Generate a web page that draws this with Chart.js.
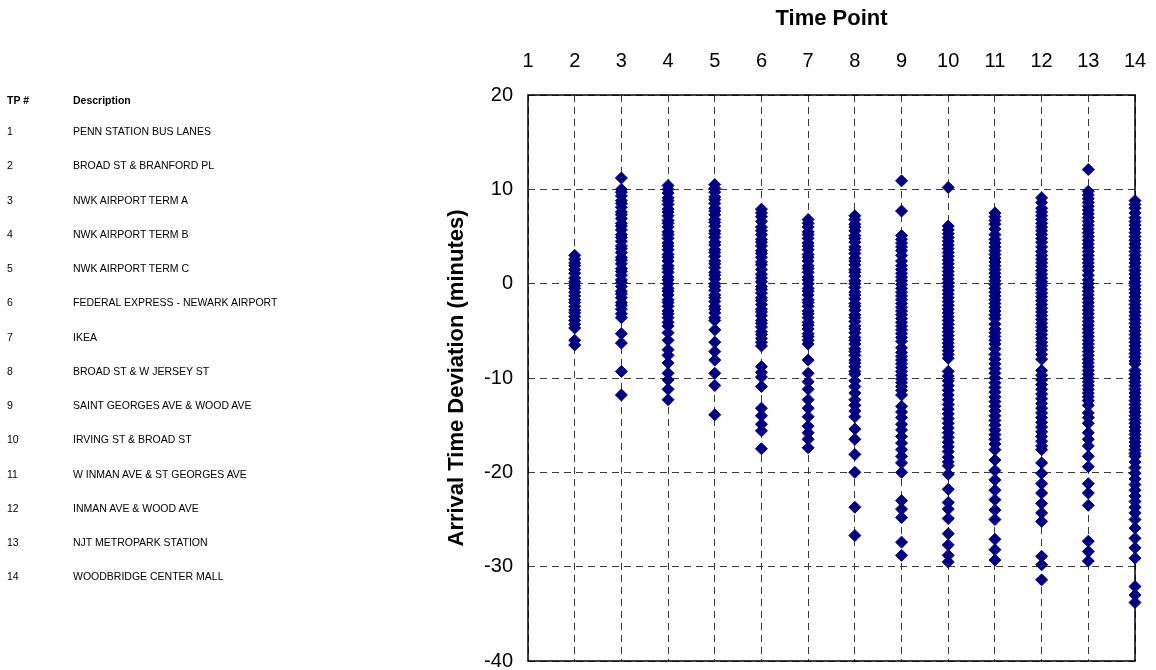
<!DOCTYPE html>
<html>
<head>
<meta charset="utf-8">
<script src="https://cdn.jsdelivr.net/npm/chart.js@4/dist/chart.umd.min.js"></script>
<style>
  body { margin: 0; background: #fff; }
  #wrap { position: relative; width: 1156px; height: 670px; }
  #chart { position: absolute; left: 0; top: 0; }
  .cell { position: absolute; font-family: Arial, "Liberation Sans", sans-serif; font-size: 10.5px; color: #000; line-height: 12px; white-space: nowrap; }
  .head { font-weight: bold; }
</style>
</head>
<body>
<div id="wrap">
  <canvas id="chart" width="1156" height="670"></canvas>
  <div id="table"></div>
</div>
<script>
// time points and stop names
const timePoints = [1, 2, 3, 4, 5, 6, 7, 8, 9, 10, 11, 12, 13, 14];
const descriptions = [
    'PENN STATION BUS LANES', 'BROAD ST & BRANFORD PL', 'NWK AIRPORT TERM A', 'NWK AIRPORT TERM B',
    'NWK AIRPORT TERM C', 'FEDERAL EXPRESS - NEWARK AIRPORT', 'IKEA', 'BROAD ST & W JERSEY ST',
    'SAINT GEORGES AVE & WOOD AVE', 'IRVING ST & BROAD ST', 'W INMAN AVE & ST GEORGES AVE',
    'INMAN AVE & WOOD AVE', 'NJT METROPARK STATION', 'WOODBRIDGE CENTER MALL'
];
const yTicks = [20, 10, 0, -10, -20, -30, -40];

// arrival time deviations (minutes) read per time point
const tp1 = [];
const tp2 = [3.0, 2.6, 2.2, 1.9, 1.5, 1.1, 0.6, 0.2, -0.2, -0.5, -0.9, -1.3, -1.7, -2.0, -2.4, -2.8, -3.1, -3.5, -3.9, -4.3, -4.7, -6.0, -6.5];
const tp3 = [11.2, 10.0, 9.7, 9.3, 8.8, 8.5, 8.1, 7.6, 7.3, 6.9, 6.4, 6.1, 5.7, 5.2, 4.9, 4.5, 4.0, 3.7, 3.3, 2.8, 2.5, 2.1, 1.6, 1.3, 0.9, 0.4, 0.1, -0.3, -0.8, -1.1, -1.5, -2.0, -2.3, -2.7, -3.2, -3.6, -5.3, -6.3, -9.3, -11.8];
const tp4 = [10.4, 10.0, 9.6, 9.1, 8.8, 8.4, 7.9, 7.6, 7.2, 6.7, 6.4, 6.0, 5.5, 5.2, 4.8, 4.3, 4.0, 3.6, 3.1, 2.8, 2.4, 1.9, 1.6, 1.2, 0.7, 0.4, 0.0, -0.5, -0.8, -1.2, -1.7, -2.0, -2.4, -2.9, -3.2, -3.6, -4.1, -4.5, -5.2, -6.0, -7.0, -7.6, -8.4, -9.5, -10.2, -11.2, -12.3];
const tp5 = [10.5, 10.1, 9.7, 9.2, 8.9, 8.5, 8.0, 7.7, 7.3, 6.8, 6.5, 6.1, 5.6, 5.3, 4.9, 4.4, 4.1, 3.6, 3.3, 2.9, 2.4, 2.1, 1.7, 1.2, 0.9, 0.5, 0.0, -0.3, -0.7, -1.2, -1.5, -1.9, -2.4, -2.7, -3.1, -3.6, -3.9, -4.9, -6.2, -7.2, -8.1, -9.5, -10.8, -13.9];
const tp6 = [7.9, 7.5, 7.1, 6.6, 6.0, 5.6, 5.2, 4.7, 4.4, 4.0, 3.5, 3.2, 2.8, 2.3, 2.0, 1.5, 1.0, 0.6, 0.2, -0.3, -0.6, -1.0, -1.5, -1.8, -2.2, -2.7, -3.0, -3.4, -3.9, -4.2, -4.6, -5.1, -5.4, -5.8, -6.2, -6.6, -8.8, -9.4, -9.9, -10.9, -13.2, -14.0, -14.9, -15.6, -17.5];
const tp7 = [6.8, 6.4, 6.0, 5.5, 5.2, 4.8, 4.3, 4.0, 3.6, 3.1, 2.8, 2.4, 1.9, 1.6, 1.2, 0.7, 0.4, 0.0, -0.5, -0.8, -1.2, -1.7, -2.0, -2.4, -2.9, -3.2, -3.6, -4.1, -4.4, -4.8, -5.3, -5.6, -6.0, -6.4, -8.1, -9.5, -10.4, -11.2, -12.3, -13.2, -14.1, -15.1, -15.8, -16.5, -17.4];
const tp8 = [7.2, 6.8, 6.3, 6.0, 5.6, 5.1, 4.8, 4.4, 3.9, 3.6, 3.2, 2.7, 2.4, 2.0, 1.5, 1.2, 0.8, 0.3, 0.0, -0.4, -0.9, -1.2, -1.6, -2.1, -2.4, -2.8, -3.3, -3.6, -4.0, -4.5, -4.8, -5.2, -5.7, -6.0, -6.4, -6.9, -7.2, -7.6, -8.1, -8.4, -8.8, -9.3, -9.6, -10.3, -10.9, -11.6, -12.3, -12.9, -13.5, -14.1, -15.4, -16.5, -18.1, -20.0, -23.7, -26.7];
const tp9 = [10.9, 7.7, 5.1, 4.7, 4.3, 3.9, 3.5, 3.0, 2.4, 1.9, 1.5, 1.1, 0.7, 0.3, -0.1, -0.5, -0.9, -1.3, -1.7, -2.1, -2.5, -2.9, -3.3, -3.7, -4.1, -4.5, -4.9, -5.3, -5.7, -6.1, -6.8, -7.3, -7.7, -8.1, -8.5, -8.9, -9.3, -9.7, -10.1, -10.5, -10.9, -11.3, -11.8, -13.0, -13.6, -14.2, -14.9, -15.5, -16.2, -16.9, -17.6, -18.3, -19.0, -20.0, -23.0, -23.9, -24.8, -27.4, -28.8];
const tp10 = [10.2, 6.1, 5.7, 5.3, 4.9, 4.5, 4.1, 3.7, 3.3, 2.9, 2.5, 2.1, 1.7, 1.3, 0.9, 0.5, 0.1, -0.3, -0.7, -1.1, -1.5, -1.9, -2.3, -2.7, -3.1, -3.5, -3.9, -4.3, -4.7, -5.1, -5.5, -5.9, -6.3, -6.7, -7.1, -7.5, -7.9, -9.3, -9.8, -10.3, -10.8, -11.3, -11.8, -12.3, -12.8, -13.3, -13.8, -14.3, -14.8, -15.3, -15.8, -16.3, -16.8, -17.3, -17.8, -18.4, -18.9, -19.3, -20.2, -21.8, -23.2, -23.9, -24.9, -26.5, -27.7, -28.8, -29.5];
const tp11 = [7.5, 7.1, 6.7, 6.3, 5.8, 5.2, 4.7, 4.3, 3.9, 3.5, 3.1, 2.7, 2.3, 1.9, 1.5, 1.1, 0.7, 0.3, -0.1, -0.5, -0.9, -1.3, -1.7, -2.1, -2.5, -2.9, -3.3, -3.7, -4.3, -4.8, -5.2, -5.6, -6.0, -6.4, -6.9, -7.5, -8.0, -8.5, -9.0, -9.5, -10.0, -10.5, -11.0, -11.5, -12.0, -12.5, -13.0, -13.5, -14.0, -14.5, -15.0, -15.5, -16.0, -16.5, -17.0, -17.6, -18.7, -19.8, -20.8, -21.9, -22.9, -24.0, -25.0, -27.1, -28.2, -29.3];
const tp12 = [9.1, 8.6, 8.0, 7.6, 7.2, 6.8, 6.4, 6.0, 5.6, 5.2, 4.8, 4.4, 3.9, 3.4, 3.0, 2.6, 2.2, 1.8, 1.4, 1.0, 0.6, 0.2, -0.2, -0.6, -1.0, -1.4, -1.8, -2.2, -2.6, -3.0, -3.4, -3.8, -4.2, -4.6, -5.0, -5.4, -5.8, -6.2, -6.6, -7.0, -7.5, -8.0, -9.2, -9.7, -10.2, -10.7, -11.2, -11.7, -12.2, -12.7, -13.2, -13.7, -14.2, -14.7, -15.2, -15.7, -16.2, -16.7, -17.2, -17.6, -19.0, -20.1, -21.2, -22.2, -23.3, -24.3, -25.2, -28.9, -29.8, -31.4];
const tp13 = [12.1, 9.8, 9.4, 9.0, 8.6, 8.2, 7.8, 7.4, 7.0, 6.6, 6.2, 5.8, 5.4, 5.0, 4.6, 4.2, 3.8, 3.4, 3.0, 2.6, 2.2, 1.8, 1.4, 0.9, 0.4, 0.0, -0.4, -0.8, -1.2, -1.6, -2.0, -2.4, -2.8, -3.2, -3.6, -4.0, -4.4, -4.8, -5.2, -5.6, -6.0, -6.4, -6.8, -7.2, -7.6, -8.0, -8.4, -8.8, -9.2, -9.6, -10.0, -10.4, -10.8, -11.2, -11.6, -12.0, -12.4, -12.9, -13.7, -14.2, -14.8, -15.8, -16.5, -17.2, -18.3, -19.4, -21.2, -22.2, -23.5, -27.3, -28.4, -29.4];
const tp14 = [8.8, 8.4, 8.0, 7.5, 7.0, 6.6, 6.2, 5.8, 5.4, 5.0, 4.6, 4.2, 3.8, 3.4, 3.0, 2.6, 2.2, 1.8, 1.4, 1.0, 0.6, 0.2, -0.2, -0.6, -1.0, -1.4, -1.8, -2.2, -2.6, -3.0, -3.4, -3.8, -4.2, -4.6, -5.0, -5.4, -5.8, -6.2, -6.6, -7.0, -7.4, -7.8, -8.2, -8.5, -9.2, -9.6, -10.0, -10.4, -10.8, -11.2, -11.6, -12.0, -12.4, -12.8, -13.2, -13.6, -14.0, -14.4, -14.8, -15.2, -15.6, -16.0, -16.4, -16.8, -17.2, -17.6, -18.0, -18.3, -18.9, -19.5, -20.1, -20.7, -21.3, -21.9, -22.5, -23.1, -23.7, -24.3, -25.0, -25.9, -27.0, -28.0, -29.1, -32.1, -33.0, -33.8];

const deviations = [tp1, tp2, tp3, tp4, tp5, tp6, tp7, tp8, tp9, tp10, tp11, tp12, tp13, tp14];

const FONT = 'Arial, "Liberation Sans", sans-serif';

// left-hand legend table
function buildTable() {
    const t = document.getElementById('table');
    let html = '<div class="cell head" style="left:7px;top:94px">TP #</div>' +
               '<div class="cell head" style="left:73px;top:94px">Description</div>';
    timePoints.forEach((tp, i) => {
        const top = 125 + i * 34.25;
        html += '<div class="cell" style="left:7px;top:' + top + 'px">' + tp + '</div>';
        html += '<div class="cell" style="left:73px;top:' + top + 'px">' + descriptions[i] + '</div>';
    });
    t.innerHTML = html;
}
buildTable();

const points = [];
deviations.forEach((vals, i) => {
    vals.forEach(v => points.push({ x: timePoints[i], y: v }));
});

const frame = {
    id: 'frame',
    beforeDatasetsDraw(chart) {
        const a = chart.chartArea, ctx = chart.ctx;
        ctx.save();
        ctx.strokeStyle = '#000';
        ctx.lineWidth = 1.5;
        ctx.strokeRect(a.left, a.top, a.right - a.left, a.bottom - a.top);
        ctx.restore();
    }
};

new Chart(document.getElementById('chart').getContext('2d'), {
    type: 'scatter',
    data: {
        datasets: [{
            data: points,
            backgroundColor: '#000080',
            borderColor: '#000080',
            borderWidth: 1,
            pointStyle: 'rectRot',
            pointRadius: 6,
            clip: false
        }]
    },
    options: {
        responsive: false,
        animation: false,
        layout: { padding: { left: 440, right: 21, top: 0, bottom: 9 } },
        plugins: { legend: { display: false }, tooltip: { enabled: false } },
        scales: {
            x: {
                type: 'linear',
                position: 'top',
                min: 1, max: 14,
                afterFit: s => { s.height = 95; s.paddingLeft = 0; s.paddingRight = 0; },
                afterBuildTicks: s => { s.ticks = timePoints.map(v => ({ value: v })); },
                ticks: { color: '#000', font: { family: FONT, size: 20 }, padding: 22, maxRotation: 0 },
                grid: { color: '#3a3a3a', lineWidth: 1, drawTicks: false },
                border: { display: false, dash: [7, 5] },
                title: { display: true, text: 'Time Point', color: '#000', font: { family: FONT, size: 22, weight: 'bold' }, padding: { top: 6, bottom: 0 } }
            },
            y: {
                min: -40, max: 20,
                afterFit: s => { s.width = 88; s.paddingTop = 0; s.paddingBottom = 0; },
                afterBuildTicks: s => { s.ticks = yTicks.map(v => ({ value: v })); },
                ticks: { color: '#000', font: { family: FONT, size: 20 }, padding: 15 },
                grid: { color: '#3a3a3a', lineWidth: 1, drawTicks: false },
                border: { display: false, dash: [7, 5] },
                title: { display: true, text: 'Arrival Time Deviation (minutes)', color: '#000', font: { family: FONT, size: 22, weight: 'bold' }, padding: { top: 4, bottom: 0 } }
            }
        }
    },
    plugins: [frame]
});
</script>
</body>
</html>
